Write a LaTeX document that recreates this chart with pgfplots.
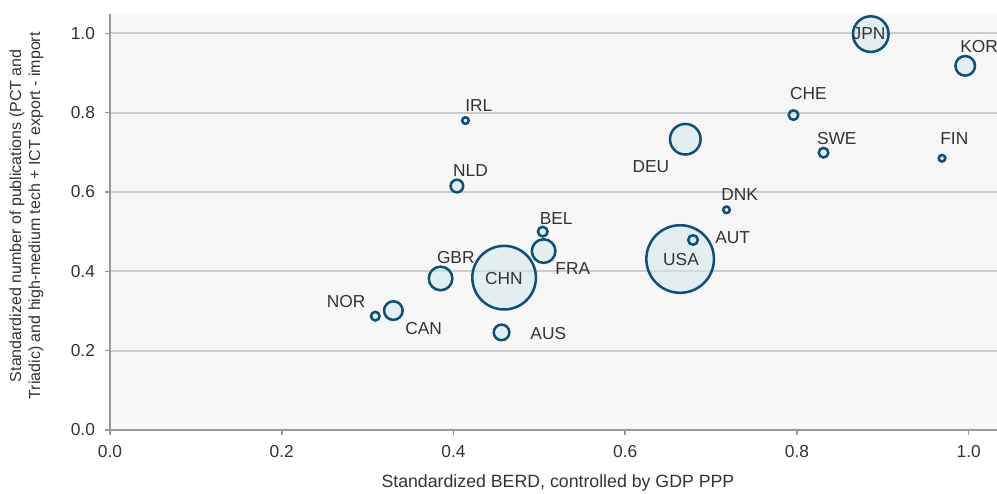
\documentclass[border=0pt]{standalone}
\usepackage{fontspec}
\setmainfont{Liberation Sans}
\usepackage{pgfplots}
\usepackage{pgfplotstable}
\pgfplotsset{compat=1.18}
\definecolor{bubfill}{HTML}{D3E7EC}
\definecolor{bubedge}{HTML}{0E4F7B}
\definecolor{gridc}{HTML}{CCCCCC}
\definecolor{spine}{HTML}{999999}
\definecolor{bgc}{HTML}{F7F7F7}
\definecolor{txt}{HTML}{333333}
% x, y, outer bubble radius (px), label position
\pgfplotstableread{
name x     y     r    lx     ly
USA  0.664 0.431 35   0.665  0.430
CHN  0.459 0.384 33   0.4587 0.3811
JPN  0.886 0.998 19   0.884  0.999
DEU  0.670 0.733 16.5 0.630  0.663
FRA  0.505 0.451 13   0.539  0.4076
GBR  0.385 0.382 13   0.4027 0.4343
KOR  0.996 0.918 11   1.0122 0.9655
CAN  0.330 0.301 10.5 0.3652 0.2551
AUS  0.456 0.246 9    0.5104 0.2428
NLD  0.404 0.615 7.5  0.4199 0.6546
CHE  0.796 0.794 6    0.8133 0.847
SWE  0.831 0.699 6    0.8464 0.7353
BEL  0.504 0.500 6    0.5197 0.5336
AUT  0.679 0.479 6    0.7251 0.4853
NOR  0.309 0.287 5.5  0.2749 0.3227
FIN  0.969 0.685 4.5  0.9833 0.7353
DNK  0.718 0.555 4.5  0.7333 0.5924
IRL  0.414 0.780 4.5  0.4295 0.8167
}\bubbles
\begin{document}
\begin{tikzpicture}
\begin{axis}[
  set layers,
  scale only axis,
  width=665.25pt, height=312pt,
  xmin=0, xmax=1.033, ymin=0, ymax=1.0487,
  clip=false,
  axis x line*=bottom, axis y line*=left,
  axis line style={spine, line width=1.5pt},
  axis background/.style={fill=bgc},
  xtick={0,0.2,0.4,0.6,0.8,1.0},
  ytick={0,0.2,0.4,0.6,0.8,1.0},
  /pgf/number format/fixed,
  /pgf/number format/fixed zerofill,
  /pgf/number format/precision=1,
  /pgf/number format/assume math mode=true,
  tick align=outside,
  major tick length=3.75pt,
  tick style={spine, line width=1.2pt},
  ymajorgrids,
  grid style={gridc, line width=1.5pt},
  ticklabel style={font=\fontsize{13}{15}\selectfont, text=txt},
  yticklabel style={xshift=-4pt},
  xticklabel style={yshift=-4.5pt},
  xlabel={Standardized BERD, controlled by GDP PPP},
  xlabel style={font=\fontsize{13.3}{15}\selectfont, text=txt, at={(axis description cs:0.505,-0.1274)}, anchor=center},
  ylabel={Standardized number of publications (PCT and\\Triadic) and high-medium tech + ICT export - import},
  ylabel style={font=\fontsize{12}{14.25}\selectfont, text=txt, align=center, at={(axis description cs:-0.0941,0.515)}, anchor=center},
]
\addplot[scatter, only marks, mark=*,
  scatter/use mapped color={draw=bubedge, fill=bubfill},
  mark options={line width=1.9pt, fill opacity=0.55, draw opacity=1},
  visualization depends on={0.75*(\thisrow{r}-1.2) \as \msize},
  scatter/@pre marker code/.append style={/tikz/mark size=\msize pt},
] table[x=x, y=y] {\bubbles};
\pgfplotstablegetrowsof{\bubbles}
\pgfmathtruncatemacro{\nrows}{\pgfplotsretval-1}
\pgfplotsinvokeforeach{0,...,\nrows}{
  \pgfplotstablegetelem{#1}{lx}\of{\bubbles}\edef\lx{\pgfplotsretval}
  \pgfplotstablegetelem{#1}{ly}\of{\bubbles}\edef\ly{\pgfplotsretval}
  \pgfplotstablegetelem{#1}{name}\of{\bubbles}\edef\nm{\pgfplotsretval}
  \edef\temp{\noexpand\begin{pgfonlayer}{axis foreground}\noexpand\node[font=\noexpand\fontsize{13}{15}\noexpand\selectfont, text=txt, inner sep=0pt] at (axis cs:\lx,\ly) {\nm};\noexpand\end{pgfonlayer}}
  \temp
}
\coordinate (SW) at (rel axis cs:0,0);
\coordinate (NE) at (rel axis cs:1,1);
\end{axis}
\pgfresetboundingbox
\path[use as bounding box] ([shift={(-82.5pt,-48pt)}]SW) rectangle ([shift={(0pt,10.5pt)}]NE);
\end{tikzpicture}
\end{document}
